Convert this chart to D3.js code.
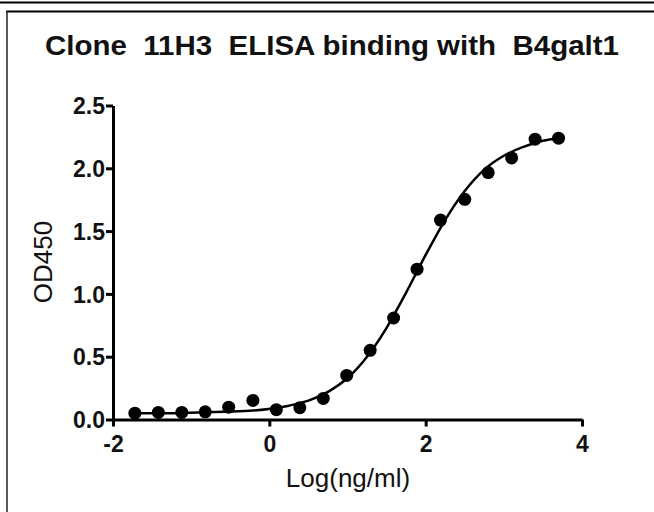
<!DOCTYPE html>
<html>
<head>
<meta charset="utf-8">
<script src="https://cdn.jsdelivr.net/npm/d3@7"></script>
<style>
  body { margin: 0; background: #fff; }
  svg { display: block; font-family: "Liberation Sans", Arial, sans-serif; }
</style>
</head>
<body>
<div id="chart"></div>
<script>
// Data (log concentration vs OD450)
var logConc = [-1.72, -1.42, -1.12, -0.82, -0.52, -0.21, 0.09, 0.39, 0.69, 0.99,
               1.29, 1.59, 1.89, 2.19, 2.50, 2.80, 3.10, 3.40, 3.70];
var od450   = [0.050, 0.056, 0.056, 0.061, 0.098, 0.152, 0.078, 0.094, 0.168, 0.351,
               0.551, 0.808, 1.197, 1.588, 1.753, 1.966, 2.083, 2.232, 2.240];

// Fitted curve
var fitX = [-1.72, -1.25, -0.75, -0.25, 0.25, 0.5, 0.75, 1.0, 1.25, 1.5,
            1.75, 2.0, 2.25, 2.5, 2.75, 3.0, 3.25, 3.5, 3.70];
var fitY = [0.05, 0.05, 0.06, 0.07, 0.11, 0.15, 0.22, 0.33, 0.50, 0.73,
            1.01, 1.31, 1.59, 1.82, 1.99, 2.10, 2.17, 2.22, 2.24];

var xTicks = [-2, 0, 2, 4];
var yTicks = [0, 0.5, 1.0, 1.5, 2.0, 2.5];

var titleText = "Clone  11H3  ELISA binding with  B4galt1";
var xLabel = "Log(ng/ml)";
var yLabel = "OD450";

var width = 654, height = 512;

var svg = d3.select("#chart").append("svg")
    .attr("width", width)
    .attr("height", height);

// frame lines
svg.append("line")
    .attr("x1", 0).attr("x2", width)
    .attr("y1", 2.5).attr("y2", 2.5)
    .style("stroke", "#000").style("stroke-width", 2);
svg.append("line")
    .attr("x1", 6).attr("x2", width)
    .attr("y1", 11.5).attr("y2", 11.5)
    .style("stroke", "#000").style("stroke-width", 2);
svg.append("line")
    .attr("x1", 7).attr("x2", 7)
    .attr("y1", 11).attr("y2", height)
    .style("stroke", "#222").style("stroke-width", 1.5);

var x = d3.scaleLinear().domain([-2, 4]).range([113, 582]);
var y = d3.scaleLinear().domain([0, 2.5]).range([419.5, 105.5]);

// axes
var xAxis = d3.axisBottom(x).tickValues(xTicks).tickSize(7).tickSizeOuter(0)
    .tickFormat(function(d) { return d; });
var yAxis = d3.axisLeft(y).tickValues(yTicks).tickSize(7).tickSizeOuter(0)
    .tickFormat(d3.format(".1f"));

var gx = svg.append("g")
    .attr("transform", "translate(0," + y(0) + ")")
    .call(xAxis);
var gy = svg.append("g")
    .attr("transform", "translate(" + x(-2) + ",0)")
    .call(yAxis);

[gx, gy].forEach(function(g) {
    g.attr("font-size", null).attr("font-family", null);
    g.select(".domain").style("stroke", "#000").style("stroke-width", 3);
    g.selectAll(".tick line").style("stroke", "#000").style("stroke-width", 3);
    g.selectAll(".tick text")
        .style("font-family", "'Liberation Sans', Arial, sans-serif")
        .style("font-size", "23px")
        .style("font-weight", "bold")
        .style("fill", "#111");
});
gx.selectAll(".tick text").attr("y", 16).attr("dy", "0.72em");
gy.selectAll(".tick text").attr("x", -8).attr("dy", "0.36em");

// fit curve
var line = d3.line()
    .x(function(d, i) { return x(fitX[i]); })
    .y(function(d) { return y(d); })
    .curve(d3.curveMonotoneX);

svg.append("path")
    .datum(fitY)
    .attr("d", line)
    .style("fill", "none")
    .style("stroke", "#000")
    .style("stroke-width", 2.5);

// points
svg.selectAll(".pt")
    .data(od450)
    .enter().append("circle")
    .attr("class", "pt")
    .attr("cx", function(d, i) { return x(logConc[i]); })
    .attr("cy", function(d) { return y(d); })
    .attr("r", 6.5)
    .style("fill", "#000");

// labels
svg.append("text")
    .attr("x", 332)
    .attr("y", 55)
    .attr("text-anchor", "middle")
    .attr("textLength", 574)
    .attr("lengthAdjust", "spacingAndGlyphs")
    .style("white-space", "pre")
    .style("font-size", "27px")
    .style("font-weight", "bold")
    .style("fill", "#111")
    .text(titleText);

svg.append("text")
    .attr("x", 348)
    .attr("y", 487)
    .attr("text-anchor", "middle")
    .style("font-size", "26px")
    .style("fill", "#111")
    .text(xLabel);

svg.append("text")
    .attr("transform", "translate(52,262) rotate(-90)")
    .attr("text-anchor", "middle")
    .style("font-size", "26px")
    .style("fill", "#111")
    .text(yLabel);
</script>
</body>
</html>
